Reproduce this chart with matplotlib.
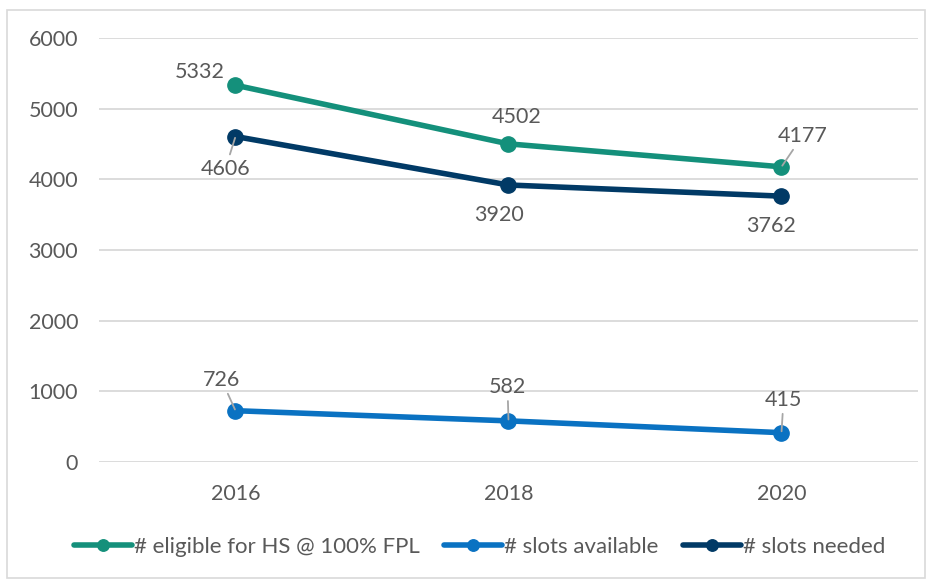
import matplotlib
matplotlib.use("Agg")
import matplotlib.pyplot as plt
from matplotlib.patches import Rectangle

years = ["2016", "2018", "2020"]
eligible = [5332, 4502, 4177]
available = [726, 582, 415]
needed = [4606, 3920, 3762]

names = ["# eligible for HS @ 100% FPL", "# slots available", "# slots needed"]
colors = ["#14907B", "#0A72C2", "#013A66"]

plt.rcParams["font.family"] = ["Lato", "DejaVu Sans"]
txt = "#595959"

fig = plt.figure(figsize=(9.33, 5.8), dpi=100)
ax = fig.add_axes([99 / 933, 1 - 462 / 580, 819 / 933, 424 / 580])

# 外框
fig.patches.append(Rectangle((7 / 933, 0.004), 918 / 933, 1 - 10 / 580 - 0.004,
                             transform=fig.transFigure, fill=False,
                             edgecolor="#D9D9D9", linewidth=1.2))

x = list(range(len(years)))
series = [eligible, available, needed]
for vals, name, c in zip(series, names, colors):
    ax.plot(x, vals, color=c, linewidth=4, marker="o", markersize=11,
            label=name, solid_capstyle="round", zorder=3)

# 数据标签偏移 (像素), 是否带引线
offsets = {
    0: [(-36, 13, False), (8, 27, False), (21, 31, True)],
    1: [(-14, 31, True), (-1, 34, True), (2, 33, True)],
    2: [(-10, -32, True), (-10, -30, False), (-11, -30, False)],
}
for si, vals in enumerate(series):
    for i, v in enumerate(vals):
        dx, dy, lead = offsets[si][i]
        ax.annotate(str(v), (x[i], v), xytext=(dx, dy), textcoords="offset pixels",
                    ha="center", va="center", fontsize=15.5, color=txt, zorder=4,
                    arrowprops=dict(arrowstyle="-", color="#A6A6A6", lw=1.3,
                                    shrinkA=1, shrinkB=1) if lead else None)

ax.set_xlim(-0.5, 2.5)
ax.set_ylim(0, 6000)
ax.set_yticks(range(0, 6001, 1000))
ax.set_xticks(x)
ax.set_xticklabels(years)
ax.grid(axis="y", color="#D9D9D9", linewidth=1.3)
ax.set_axisbelow(True)
for s in ax.spines.values():
    s.set_visible(False)
ax.tick_params(length=0, labelsize=15.5, colors=txt)
ax.tick_params(axis="y", pad=15)
ax.tick_params(axis="x", pad=16)

fig.legend(loc="center", bbox_to_anchor=(480 / 933, 1 - 547 / 580), ncol=3,
           frameon=False, fontsize=16, labelcolor=txt, handlelength=2.6,
           handletextpad=0.1, columnspacing=1.1, markerscale=0.75)

fig.savefig("out.png", dpi=100)
